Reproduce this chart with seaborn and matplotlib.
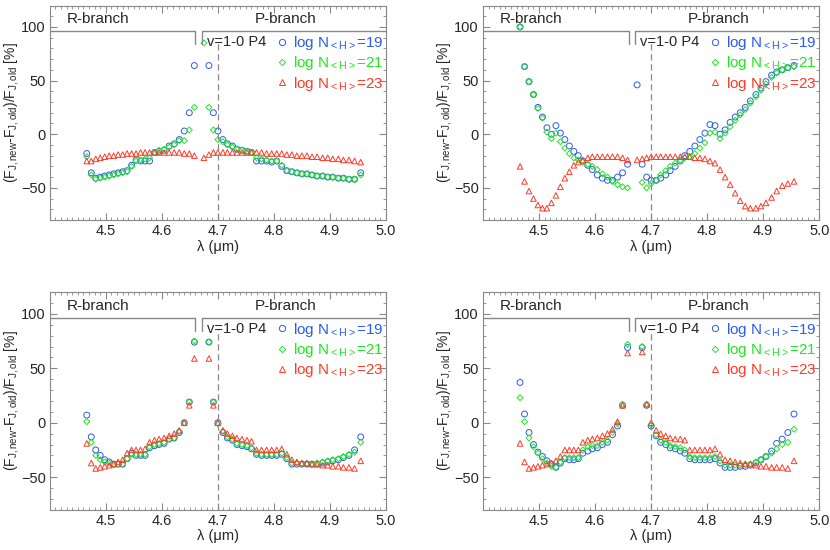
import matplotlib
matplotlib.use("Agg")
import matplotlib.pyplot as plt
from matplotlib.lines import Line2D
from matplotlib.ticker import MultipleLocator
import numpy as np
import pandas as pd
import seaborn as sns

nan = np.nan

# line wavelengths (um): R-branch then P-branch
wl_R = [4.466, 4.474, 4.482, 4.490, 4.498, 4.506, 4.514, 4.522, 4.530, 4.538, 4.546, 4.554,
        4.562, 4.570, 4.578, 4.587, 4.595, 4.604, 4.613, 4.622, 4.631, 4.640, 4.649, 4.658]
wl_P = [4.675, 4.684, 4.692, 4.700, 4.709, 4.717, 4.726, 4.734, 4.743, 4.752, 4.760, 4.769,
        4.778, 4.787, 4.796, 4.805, 4.814, 4.823, 4.832, 4.841, 4.850, 4.859, 4.868, 4.877,
        4.887, 4.896, 4.905, 4.915, 4.924, 4.934, 4.944, 4.955]
wl = wl_R + wl_P

# panel 1 (top left)
p1_n19 = [-18, -36, -41, -40, -39, -38, -37, -36, -35, -34, -29, -24, -25, -25, -25, -17, -16, -15, -11, -9, -5, 3, 20, 64,
          nan, 64, 20, 3, -5, -9, -11, -14, -15, -16, -17, -25, -25, -25, -26, -25, -30, -34, -35, -36, -37, -37, -38, -39,
          -39, -40, -40, -41, -41, -42, -42, -36]
p1_n21 = [-21, -38, -42, -41, -40, -39, -38, -37, -36, -35, -30, -25, -24, -23, -22, -17, -15, -14, -12, -10, -6, -6, 4, 25,
          85, 25, 4, -5, -7, -10, -12, -14, -15, -16, -17, -22, -23, -24, -25, -25, -29, -34, -35, -36, -37, -37, -38, -39,
          -39, -40, -40, -41, -41, -42, -42, -38]
p1_n23 = [-25, -25, -23, -22, -21, -20, -20, -19, -19, -18, -18, -18, -17, -17, -17, -17, -17, -17, -17, -17, -17, -18, -18, -20,
          -22, -19, -17, -17, -17, -17, -17, -17, -17, -17, -17, -17, -17, -18, -18, -18, -18, -19, -19, -20, -20, -20, -21, -21,
          -22, -22, -23, -23, -24, -24, -25, -26]

# panel 2 (top right)
p2_n19 = [100, 63, 49, 37, 25, 16, 6, 0, 8, 1, -5, -11, -16, -20, -25, -29, -33, -38, -41, -43, -43, -40, -36, -28,
          46, -28, -40, -43, -43, -41, -38, -34, -30, -25, -20, -16, -11, -5, 1, 9, 8, 0, 4, 11, 16, 20, 25, 31,
          37, 43, 49, 55, 58, 60, 62, 64]
p2_n21 = [100, 63, 49, 37, 24, 15, 2, -4, 1, -7, -13, -18, -22, -24, -26, -28, -30, -33, -37, -40, -44, -47, -49, -50,
          nan, -45, -50, -46, -43, -38, -34, -30, -27, -24, -22, -21, -18, -13, -8, 1, 2, -4, 1, 7, 13, 18, 23, 29,
          35, 41, 47, 53, 57, 60, 62, 63]
p2_n23 = [-30, -44, -53, -60, -66, -69, -69, -64, -57, -49, -41, -35, -29, -26, -24, -22, -21, -21, -21, -21, -21, -21, -22, -24,
          -24, -23, -22, -21, -21, -21, -21, -21, -21, -21, -21, -21, -22, -22, -23, -25, -27, -33, -40, -47, -55, -62,
          -67, -69, -69, -67, -64, -59, -53, -48, -46, -44]

# panel 3 (bottom left)
p3_n19 = [7, -13, -25, -30, -34, -36, -38, -38, -38, -33, -28, -30, -30, -30, -23, -21, -20, -19, -15, -14, -9, 0, 19, 74,
          nan, 74, 19, 0, -9, -14, -16, -20, -21, -22, -24, -29, -30, -30, -30, -30, -29, -33, -38, -38, -38, -38, -38, -38,
          -37, -36, -35, -34, -32, -30, -25, -13]
p3_n21 = [1, -18, -30, -34, -36, -37, -38, -38, -38, -33, -29, -29, -29, -29, -22, -20, -19, -18, -15, -14, -8, 0, 19, 75,
          nan, 74, 19, -1, -8, -13, -15, -19, -20, -21, -23, -28, -29, -29, -29, -29, -28, -32, -37, -37, -38, -38, -38, -37,
          -36, -35, -34, -33, -31, -29, -27, -18]
p3_n23 = [-19, -37, -42, -41, -40, -39, -38, -36, -34, -28, -25, -25, -25, -24, -18, -16, -15, -14, -12, -10, -7, 0, 16, 59,
          nan, 59, 16, 0, -7, -10, -12, -14, -15, -16, -17, -25, -25, -25, -25, -25, -24, -29, -34, -36, -37, -37, -38, -38,
          -39, -39, -40, -40, -41, -41, -42, -35]

# panel 4 (bottom right)
p4_n19 = [37, 8, -9, -20, -27, -31, -35, -38, -41, -37, -33, -34, -34, -33, -28, -26, -24, -23, -20, -18, -11, -3, 16, 69,
          nan, 69, 16, -3, -12, -18, -20, -23, -24, -26, -28, -33, -34, -34, -34, -34, -33, -37, -41, -41, -41, -40, -40, -39,
          -37, -34, -31, -26, -19, -15, -9, 8]
p4_n21 = [23, 1, -14, -22, -28, -33, -37, -40, -41, -36, -32, -32, -32, -32, -25, -22, -21, -21, -18, -16, -9, -1, 17, 72,
          nan, 70, 17, -2, -11, -16, -18, -21, -22, -23, -25, -31, -32, -32, -32, -32, -31, -35, -39, -39, -39, -39, -38, -38,
          -36, -34, -31, -28, -24, -20, -18, -6]
p4_n23 = [-19, -36, -42, -41, -40, -39, -38, -37, -35, -31, -25, -25, -25, -25, -18, -16, -15, -14, -12, -10, -6, 1, 16, 64,
          nan, 65, 17, 0, -7, -10, -12, -14, -15, -15, -16, -25, -25, -25, -25, -25, -24, -29, -34, -35, -36, -37, -38, -38,
          -39, -40, -40, -41, -41, -41, -42, -35]

panels = [(p1_n19, p1_n21, p1_n23), (p2_n19, p2_n21, p2_n23),
          (p3_n19, p3_n21, p3_n23), (p4_n19, p4_n21, p4_n23)]
labels = [r"log N$_{\rm <H>}$=19", r"log N$_{\rm <H>}$=21", r"log N$_{\rm <H>}$=23"]
colors = ["#2a5cf0", "#22e622", "#ff3a28"]
markers = ["o", "D", "^"]
sizes = [18, 9, 16]

sns.set_style("ticks")
plt.rcParams["font.family"] = "Liberation Sans"
plt.rcParams["mathtext.fontset"] = "custom"
plt.rcParams["mathtext.rm"] = "Liberation Sans"
plt.rcParams["mathtext.it"] = "Liberation Sans:italic"
fig = plt.figure(figsize=(8.3, 5.5), dpi=100)
boxes = [[0.060, 0.600, 0.405, 0.390], [0.582, 0.600, 0.405, 0.390],
         [0.060, 0.073, 0.405, 0.396], [0.582, 0.073, 0.405, 0.396]]
grey = "#888888"

for box, series in zip(boxes, panels):
    ax = fig.add_axes(box)
    for vals, lab, c, m, s in zip(series, labels, colors, markers, sizes):
        df = pd.DataFrame({"wl": wl, "v": vals}).dropna()
        sns.scatterplot(data=df, x="wl", y="v", ax=ax, marker=m, s=s,
                        facecolors="none", edgecolor=c, linewidth=0.7, legend=False)
    ax.set_xlim(4.4, 5.0)
    ax.set_ylim(-80, 120)
    ax.xaxis.set_minor_locator(MultipleLocator(0.01))
    ax.yaxis.set_major_locator(MultipleLocator(50))
    ax.yaxis.set_minor_locator(MultipleLocator(10))
    ax.set_xticks([4.5, 4.6, 4.7, 4.8, 4.9, 5.0])
    ax.tick_params(which="both", direction="in", top=True, right=True, color=grey, labelsize=10.5, pad=3)
    ax.tick_params(which="major", length=5)
    ax.tick_params(which="minor", length=2.5)
    for sp in ax.spines.values():
        sp.set_color(grey)
    ax.set_xlabel(r"λ (μm)", fontsize=10.5, labelpad=1)
    ax.set_ylabel(r"(F$_{\rm J,new}$-F$_{\rm J,old}$)/F$_{\rm J,old}$ [%]", fontsize=10, labelpad=0)
    # branch brackets
    ax.plot([4.4, 4.66, 4.66], [96, 96, 84], color=grey, lw=1)
    ax.plot([4.672, 4.672, 5.0], [84, 96, 96], color=grey, lw=1)
    ax.plot([4.7, 4.7], [-80, 86], color=grey, lw=0.9, ls=(0, (5, 3)))
    ax.text(4.43, 101, "R-branch", fontsize=11, va="bottom")
    ax.text(4.765, 101, "P-branch", fontsize=11, va="bottom")
    ax.text(4.68, 86, "v=1-0 P4", fontsize=10.5, va="center")
    handles = [Line2D([], [], ls="none", marker=m, mfc="none", mec=c, ms=ms, mew=0.7)
               for c, m, ms in zip(colors, markers, [4.5, 3.2, 4.2])]
    ax.legend(handles, labels, loc="upper right", bbox_to_anchor=(1.02, 0.91), frameon=False,
              handlelength=0.6, handletextpad=0.4, labelspacing=0.15, fontsize=11,
              labelcolor=colors, borderaxespad=0.2)

fig.savefig("out.png", dpi=100)
